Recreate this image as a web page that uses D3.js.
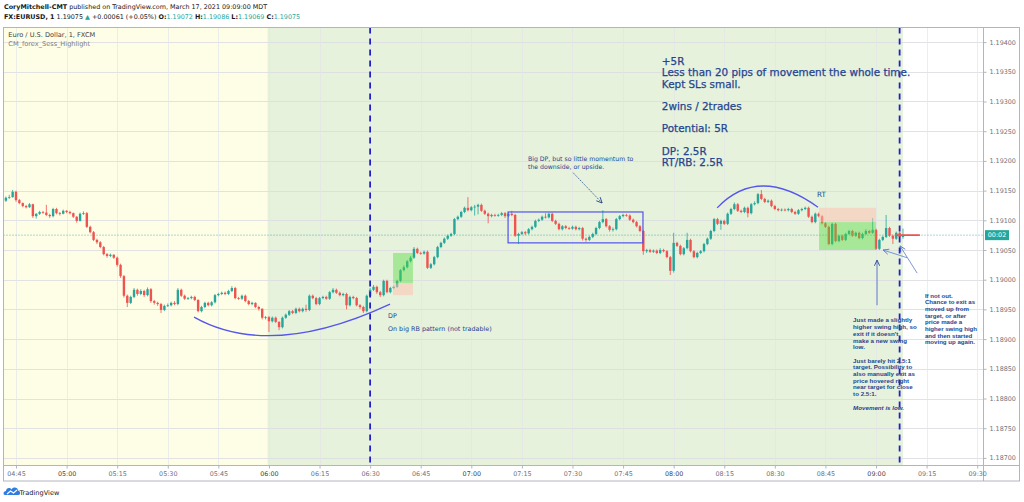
<!DOCTYPE html>
<html>
<head>
<meta charset="utf-8">
<script src="https://d3js.org/d3.v7.min.js"></script>
<style>
  body { margin: 0; background: #fff; }
  svg { display: block; font-family: "DejaVu Sans", Verdana, sans-serif; }
</style>
</head>
<body>
<svg id="chart" width="1024" height="502"></svg>
<script>

// DATA (prices in points, 1.19075 = 119075)

const firstBar = "04:42";
const firstOpen = 119133;

const closes = [
  119138,119139,119148,119134,119129,119124,119122,119127,119107,119111,
  119114,119113,119109,119107,119119,119112,119111,119116,119114,119112,
  119106,119099,119111,119112,119089,119080,119067,119063,119055,119043,
  119040,119042,119037,119025,119006,118973,118961,118971,118983,118976,
  118981,118974,118984,118964,118961,118959,118949,118956,118957,118961,
  118959,118983,118973,118968,118969,118971,118966,118947,118954,118961,
  118957,118962,118974,118976,118978,118976,118981,118986,118969,118968,
  118973,118964,118959,118961,118954,118951,118936,118937,118930,118936,
  118929,118920,118936,118941,118947,118944,118951,118947,118951,118949,
  118973,118969,118959,118969,118971,118968,118979,118983,118978,118974,
  118976,118957,118971,118969,118957,118954,118947,118973,118983,118988,
  118979,118974,118998,118979,118986,118988,118998,119016,119021,119031,
  119037,119052,119045,119044,119047,119020,119026,119038,119055,119062,
  119069,119074,119077,119102,119106,119114,119121,119117,119122,119123,
  119126,119116,119111,119107,119109,119108,119109,119112,119107,119111,
  119109,119074,119077,119080,119078,119085,119089,119099,119101,119106,
  119105,119111,119099,119094,119085,119090,119087,119086,119089,119085,
  119087,119069,119067,119072,119077,119087,119097,119102,119090,119084,
  119085,119102,119107,119109,119108,119101,119097,119090,119082,119048,
  119050,119047,119049,119045,119050,119048,119038,119015,119062,119057,
  119043,119053,119067,119048,119038,119045,119048,119060,119069,119082,
  119102,119094,119099,119094,119111,119119,119127,119116,119114,119121,
  119112,119127,119129,119144,119136,119131,119133,119124,119119,119117,
  119118,119117,119119,119114,119111,119117,119119,119121,119106,119097,
  119111,119107,119095,119089,119060,119094,119065,119074,119067,119077,
  119082,119074,119079,119070,119077,119082,119079,119084,119052,119067,
  119072,119087,119074,119069,119079,119072,119075
];

const highs = [
  119140,119143,119151,119150,119136,119130,119126,119129,119128,119112,
  119116,119116,119126,119111,119121,119121,119114,119118,119117,119116,
  119113,119107,119113,119115,119114,119091,119082,119069,119065,119057,
  119045,119044,119043,119039,119027,119008,118975,118973,118986,118985,
  118984,118983,118987,118986,118966,118963,118961,118958,118960,118963,
  118964,118986,118985,118975,118971,118973,118973,118967,118956,118963,
  118963,118964,118976,118978,118980,118980,118983,118989,118988,118971,
  118975,118975,118966,118963,118962,118956,118952,118939,118939,118938,
  118938,118930,118938,118943,118949,118949,118953,118953,118953,118958,
  118975,118975,118971,118971,118973,118973,118981,118986,118985,118980,
  118978,118978,118973,118973,118971,118959,118956,118975,118986,118991,
  118990,118981,119000,119000,118988,118990,119000,119018,119024,119033,
  119040,119055,119054,119047,119049,119049,119028,119040,119057,119064,
  119071,119076,119079,119104,119108,119116,119123,119139,119124,119126,
  119128,119128,119118,119113,119111,119111,119111,119114,119114,119113,
  119116,119111,119079,119082,119082,119087,119091,119101,119103,119108,
  119112,119113,119113,119101,119096,119092,119092,119089,119091,119091,
  119089,119089,119071,119074,119079,119089,119099,119117,119104,119092,
  119088,119104,119109,119111,119111,119110,119103,119099,119092,119084,
  119052,119052,119051,119051,119053,119052,119050,119040,119079,119064,
  119059,119055,119079,119069,119050,119047,119050,119062,119071,119084,
  119104,119104,119101,119101,119113,119121,119130,119129,119118,119123,
  119123,119129,119132,119146,119151,119138,119135,119135,119126,119121,
  119120,119120,119121,119121,119116,119119,119121,119123,119123,119108,
  119113,119113,119109,119097,119091,119096,119096,119076,119076,119079,
  119084,119084,119081,119081,119079,119085,119084,119104,119086,119069,
  119074,119109,119089,119076,119081,119081,119086
];

const lows = [
  119131,119136,119138,119131,119127,119122,119120,119121,119104,119103,
  119109,119111,119107,119104,119105,119110,119108,119110,119112,119110,
  119104,119096,119098,119109,119087,119078,119065,119060,119053,119041,
  119037,119038,119035,119022,119003,118970,118954,118959,118969,118973,
  118974,118971,118972,118961,118958,118956,118944,118947,118954,118955,
  118957,118957,118971,118966,118966,118967,118964,118945,118945,118952,
  118955,118955,118960,118972,118974,118974,118974,118979,118967,118966,
  118966,118962,118957,118957,118952,118948,118933,118933,118912,118928,
  118927,118915,118918,118934,118939,118942,118942,118945,118945,118946,
  118947,118967,118957,118957,118967,118966,118966,118977,118976,118972,
  118972,118950,118955,118967,118955,118951,118944,118945,118971,118981,
  118976,118971,118972,118977,118977,118984,118986,118996,119014,119019,
  119029,119035,119043,119042,119042,119018,119018,119024,119036,119053,
  119060,119067,119072,119075,119100,119104,119112,119115,119115,119108,
  119110,119114,119109,119095,119105,119106,119106,119107,119104,119105,
  119107,119072,119060,119075,119075,119076,119083,119087,119097,119099,
  119103,119103,119097,119092,119083,119083,119085,119084,119084,119083,
  119083,119066,119064,119065,119070,119075,119085,119095,119088,119081,
  119081,119083,119100,119105,119106,119099,119095,119088,119080,119042,
  119045,119045,119045,119043,119043,119046,119036,119008,119012,119055,
  119041,119041,119051,119046,119036,119036,119043,119046,119058,119067,
  119080,119092,119084,119092,119092,119109,119117,119114,119112,119112,
  119105,119110,119125,119127,119134,119129,119129,119122,119117,119115,
  119115,119115,119115,119112,119109,119109,119115,119117,119104,119095,
  119095,119105,119093,119087,119058,119058,119063,119063,119065,119065,
  119075,119072,119072,119068,119068,119075,119077,119077,119050,119050,
  119065,119070,119072,119060,119067,119070,119069
];

const timeTicks = ["04:45","05:00","05:15","05:30","05:45","06:00","06:15","06:30",
  "06:45","07:00","07:15","07:30","07:45","08:00","08:15","08:30","08:45","09:00",
  "09:15","09:30"];
const priceTicks = [1.187,1.1875,1.188,1.1885,1.189,1.1895,1.19,1.1905,1.191,
  1.1915,1.192,1.1925,1.193,1.1935,1.194];

const lastPrice = 1.19075;
const sessionStart = "06:00";
const sessionEnd = "09:08";
const dashedTimes = ["06:30", "09:07"];

// drawings: [time, price]
const dpBox = { from: "06:36.8", to: "06:42.7", entry: 1.18994, target: 1.19045, stop: 1.18974 };
const rtBox = { from: "08:43.1", to: "09:00", entry: 1.19097, target: 1.19050, stop: 1.19121 };
const rangeBox = [["07:10.9", 1.19114], ["07:50.9", 1.19062]];
const arcLow = [["05:37.8", 1.18937], ["06:00.3", 1.18865], ["06:35.9", 1.18959]];
const arcHigh = [["08:12.9", 1.19121], ["08:25.2", 1.19194], ["08:42.8", 1.19122]];
const arrowBigDP = [["07:30.2", 1.19180], ["07:38.8", 1.19129]];
const arrowUp = [["09:00.3", 1.18957], ["09:00.3", 1.19033]];
const arrowA = [["09:12.2", 1.19011], ["09:07.1", 1.19057]];
const arrowB = [["09:09.2", 1.19037], ["09:02.1", 1.19050]];
const redRay = [["09:06", lastPrice], ["09:13", lastPrice]];

const noteMain = ["+5R", "Less than 20 pips of movement the whole time.", "Kept SLs small.", "",
  "2wins / 2trades", "", "Potential: 5R", "", "DP: 2.5R", "RT/RB: 2.5R"];
const noteBigDP = ["Big DP, but so little momentum to", "the downside, or upside."];
const noteDP = ["DP", "", "On big RB pattern (not tradable)"];
const noteRight = ["If not out.", "Chance to exit as", "moved up from", "target, or after",
  "price made a", "higher swing high", "and then started", "moving up again."];
const noteMid = ["Just made a slightly", "higher swing high, so", "exit if it doesn't",
  "make a new swing", "low.", "", "Just barely hit 2.5:1", "target. Possibility to",
  "also manually exit as", "price hovered right", "near target for close", "to 2.5:1.", "",
  "Movement is low."];


// SCALES

const tp = s => {
  const [h, m] = s.split(":");
  return new Date(2021, 2, 17, +h, 0, 0, parseFloat(m) * 60000);
};

const x = d3.scaleTime()
  .domain([tp("04:45"), tp("09:30")])
  .range([16, 977.2]);

const y = d3.scaleLinear()
  .domain([1.187, 1.194])
  .range([457.9, 42.1]);

const px = p => [x(tp(p[0])), y(p[1])];

const bars = closes.map((c, i) => ({
  t: d3.timeMinute.offset(tp(firstBar), i),
  o: (i ? closes[i - 1] : firstOpen) / 1e5,
  h: highs[i] / 1e5,
  l: lows[i] / 1e5,
  c: c / 1e5
}));

const UP = "#26a69a", DOWN = "#ef5350", INK = "#25458f";

const svg = d3.select("#chart");

const pLeft = 3.5, pTop = 27.5, pRight = 983.5, pBottom = 465.5;

svg.append("defs").append("clipPath").attr("id", "plotClip")
  .append("rect")
  .attr("x", pLeft).attr("y", pTop)
  .attr("width", pRight - pLeft).attr("height", pBottom - pTop);

["arrInk", "arrLight"].forEach((id, k) => {
  svg.select("defs").append("marker")
    .attr("id", id)
    .attr("viewBox", "0 0 8 8")
    .attr("refX", 7.5).attr("refY", 4)
    .attr("markerWidth", 7).attr("markerHeight", 7)
    .attr("markerUnits", "userSpaceOnUse")
    .attr("orient", "auto")
    .append("path")
    .attr("d", "M1,1 L7.5,4 L1,7")
    .attr("fill", "none")
    .attr("stroke", k ? "#5a7bd3" : INK)
    .attr("stroke-width", 1);
});

const plot = svg.append("g").attr("clip-path", "url(#plotClip)");

// BACKGROUND SESSIONS

plot.append("rect")
  .attr("x", pLeft).attr("y", pTop)
  .attr("width", x(tp(sessionStart)) - 1.5 - pLeft)
  .attr("height", pBottom - pTop)
  .attr("fill", "#fefee6");

plot.append("rect")
  .attr("x", x(tp(sessionStart)) - 1.5).attr("y", pTop)
  .attr("width", x(tp(sessionEnd)) - x(tp(sessionStart)) + 1.5)
  .attr("height", pBottom - pTop)
  .attr("fill", "#e6f2dc");

// GRID

plot.append("g")
  .selectAll("line")
  .data(priceTicks)
  .join("line")
  .attr("x1", pLeft).attr("x2", pRight)
  .attr("y1", d => Math.round(y(d)) + 0.5)
  .attr("y2", d => Math.round(y(d)) + 0.5)
  .attr("stroke", "#d9dbe0")
  .attr("stroke-opacity", 0.8);

plot.append("g")
  .selectAll("line")
  .data(timeTicks)
  .join("line")
  .attr("x1", d => Math.round(x(tp(d))) + 0.5)
  .attr("x2", d => Math.round(x(tp(d))) + 0.5)
  .attr("y1", pTop).attr("y2", pBottom)
  .attr("stroke", "#e3e5ea")
  .attr("stroke-opacity", 0.7);

// LAST PRICE DOTTED LINE

plot.append("line")
  .attr("x1", pLeft).attr("x2", pRight)
  .attr("y1", y(lastPrice)).attr("y2", y(lastPrice))
  .attr("stroke", UP)
  .attr("stroke-width", 0.8)
  .attr("stroke-dasharray", "1,2");

// CANDLES

const candle = plot.append("g")
  .selectAll("g")
  .data(bars)
  .join("g")
  .attr("fill", d => d.c >= d.o ? UP : DOWN)
  .attr("stroke", d => d.c >= d.o ? UP : DOWN);

candle.append("line")
  .attr("x1", d => x(d.t)).attr("x2", d => x(d.t))
  .attr("y1", d => y(d.h)).attr("y2", d => y(d.l))
  .attr("stroke-width", 0.8);

candle.append("rect")
  .attr("stroke", "none")
  .attr("x", d => x(d.t) - 1.2)
  .attr("width", 2.4)
  .attr("y", d => y(Math.max(d.o, d.c)))
  .attr("height", d => Math.max(0.8, Math.abs(y(d.o) - y(d.c))));

// POSITION BOXES

[dpBox, rtBox].forEach(b => {
  const x0 = x(tp(b.from)), x1 = x(tp(b.to));
  plot.append("rect")
    .attr("x", x0).attr("width", x1 - x0)
    .attr("y", y(Math.max(b.entry, b.target)))
    .attr("height", Math.abs(y(b.entry) - y(b.target)))
    .attr("fill", "#4fdb36").attr("fill-opacity", 0.42);
  plot.append("rect")
    .attr("x", x0).attr("width", x1 - x0)
    .attr("y", y(Math.max(b.entry, b.stop)))
    .attr("height", Math.abs(y(b.entry) - y(b.stop)))
    .attr("fill", "#ffbfae").attr("fill-opacity", 0.5);
});

// RANGE RECTANGLE

const r0 = px(rangeBox[0]), r1 = px(rangeBox[1]);
plot.append("rect")
  .attr("x", r0[0]).attr("y", r0[1])
  .attr("width", r1[0] - r0[0]).attr("height", r1[1] - r0[1])
  .attr("fill", "none")
  .attr("stroke", "#5252ee")
  .attr("stroke-width", 1.2);

// ARCS

[arcLow, arcHigh].forEach(a => {
  const [p0, p1, p2] = a.map(px);
  plot.append("path")
    .attr("d", `M${p0}Q${p1} ${p2}`)
    .attr("fill", "none")
    .attr("stroke", "#5656ec")
    .attr("stroke-width", 1.3);
});

// ARROWS

function arrow(pts, color, marker, dash) {
  const [a, b] = pts.map(px);
  plot.append("line")
    .attr("x1", a[0]).attr("y1", a[1])
    .attr("x2", b[0]).attr("y2", b[1])
    .attr("stroke", color)
    .attr("stroke-width", 0.8)
    .attr("stroke-dasharray", dash || null)
    .attr("marker-end", `url(#${marker})`);
}

arrow(arrowBigDP, INK, "arrInk", "1.5,1");
arrow(arrowUp, "#3b5fc4", "arrInk");
arrow(arrowA, "#5a7bd3", "arrLight");
arrow(arrowB, "#5a7bd3", "arrLight");

// RED RAY

const rr0 = px(redRay[0]), rr1 = px(redRay[1]);
plot.append("line")
  .attr("x1", rr0[0]).attr("x2", rr1[0])
  .attr("y1", rr0[1]).attr("y2", rr1[1])
  .attr("stroke", DOWN)
  .attr("stroke-width", 1.6);

// DASHED VERTICALS

plot.append("g")
  .selectAll("line")
  .data(dashedTimes)
  .join("line")
  .attr("x1", d => x(tp(d))).attr("x2", d => x(tp(d)))
  .attr("y1", pTop).attr("y2", pBottom)
  .attr("stroke", "#2020c8")
  .attr("stroke-width", 1.8)
  .attr("stroke-dasharray", "6,5");

// NOTES

function note(lines, at, size, lh, opts = {}) {
  const [x0, y0] = px(at);
  const t = plot.append("text")
    .attr("font-size", size)
    .attr("fill", INK)
    .attr("font-family", opts.family || null)
    .attr("font-weight", opts.weight || null)
    .attr("stroke", opts.thick ? INK : null)
    .attr("stroke-width", opts.thick || null);
  lines.forEach((s, k) => {
    if (!s) return;
    const sp = t.append("tspan")
      .attr("x", x0)
      .attr("y", y0 + k * lh)
      .text(s);
    if (opts.italicLast && k === lines.length - 1)
      sp.attr("font-style", "italic");
  });
}

const narrow = "Liberation Sans, Arial, sans-serif";

note(noteMain, ["07:56.5", 1.19361], 10.4, 11.2, { thick: 0.25 });
note(noteBigDP, ["07:16.8", 1.19200], 6.2, 7.8);
note(noteDP, ["06:35.3", 1.18935], 6.4, 6.5);
note(["RT"], ["08:42.5", 1.19140], 7.2, 8);
note(noteRight, ["09:14.5", 1.18970], 6.1, 6.7, { family: narrow, weight: "bold" });
note(noteMid, ["08:53.2", 1.18928], 6.2, 6.7, { family: narrow, weight: "bold", italicLast: true });

// FRAME

svg.append("rect")
  .attr("x", pLeft).attr("y", pTop)
  .attr("width", 1019.5 - pLeft).attr("height", 481 - pTop)
  .attr("fill", "none")
  .attr("stroke", "#b2b5be");

svg.append("line")
  .attr("x1", pRight).attr("x2", pRight)
  .attr("y1", pTop).attr("y2", 481)
  .attr("stroke", "#b2b5be");

svg.append("line")
  .attr("x1", pLeft).attr("x2", 1019.5)
  .attr("y1", pBottom).attr("y2", pBottom)
  .attr("stroke", "#b2b5be");

// AXES

const yAxis = svg.append("g")
  .attr("transform", `translate(${pRight},0)`)
  .call(d3.axisRight(y)
    .tickValues(priceTicks)
    .tickFormat(d3.format(".5f"))
    .tickSize(3)
    .tickPadding(3));

const xAxis = svg.append("g")
  .attr("transform", `translate(0,${pBottom})`)
  .call(d3.axisBottom(x)
    .tickValues(timeTicks.map(tp))
    .tickFormat(d3.timeFormat("%H:%M"))
    .tickSize(3)
    .tickPadding(2.5));

[yAxis, xAxis].forEach(a => {
  a.select(".domain").remove();
  a.selectAll("line").attr("stroke", "#b2b5be");
  a.selectAll("text")
    .attr("font-family", "DejaVu Sans, sans-serif")
    .attr("font-size", 6.4)
    .attr("fill", "#6f727c");
});

xAxis.selectAll("text")
  .filter(d => d.getMinutes() === 0)
  .attr("fill", "#3c3f47");

// LAST PRICE LABEL

svg.append("rect")
  .attr("x", pRight + 1.5).attr("y", y(lastPrice) - 5)
  .attr("width", 24).attr("height", 10)
  .attr("fill", UP);

svg.append("text")
  .attr("x", pRight + 13.5).attr("y", y(lastPrice) + 2.3)
  .attr("text-anchor", "middle")
  .attr("font-size", 6.4)
  .attr("fill", "#fff")
  .text("00:02");

// HEADER

const h1 = svg.append("text")
  .attr("x", 4).attr("y", 8.6)
  .attr("font-size", 6.4)
  .attr("fill", "#131722");
h1.append("tspan").attr("font-weight", "bold").text("CoryMitchell-CMT");
h1.append("tspan").text(" published on TradingView.com, March 17, 2021 09:09:00 MDT");

const h2 = svg.append("text")
  .attr("x", 4).attr("y", 18.6)
  .attr("font-size", 6.4)
  .attr("fill", "#131722");
h2.append("tspan").attr("font-weight", "bold").text("FX:EURUSD, 1");
h2.append("tspan").text(" 1.19075 ");
h2.append("tspan").attr("fill", UP).text("▲");
h2.append("tspan").text(" +0.00061 (+0.05%) ");
[["O:", "1.19072"], ["H:", "1.19086"], ["L:", "1.19069"], ["C:", "1.19075"]].forEach(([k, v]) => {
  h2.append("tspan").attr("font-weight", "bold").text(k);
  h2.append("tspan").attr("fill", UP).text(v + " ");
});

svg.append("text")
  .attr("x", 8.3).attr("y", 36.8)
  .attr("font-size", 6.6)
  .attr("fill", "#3c3f47")
  .text("Euro / U.S. Dollar, 1, FXCM");

svg.append("text")
  .attr("x", 8.3).attr("y", 45.8)
  .attr("font-size", 6.6)
  .attr("fill", "#787b86")
  .text("CM_forex_Sess_Highlight");

// LOGO

const logo = svg.append("g").attr("transform", "translate(4,486)");
logo.append("path")
  .attr("d", "M1,9 C-1,9 -1,5 2,5 C2,2 6,1 7.5,3.5 C9,0.5 14,1 14,4.5 C16.5,4.5 17,9 14.5,9 Z")
  .attr("fill", "#2f7de1");
logo.append("path")
  .attr("d", "M3,8 L6.5,5 L9.5,7 L13,4")
  .attr("fill", "none")
  .attr("stroke", "#fff")
  .attr("stroke-width", 1.1);

svg.append("text")
  .attr("x", 19.5).attr("y", 494.6)
  .attr("font-size", 6.6)
  .attr("fill", "#131722")
  .text("TradingView");

</script>
</body>
</html>
